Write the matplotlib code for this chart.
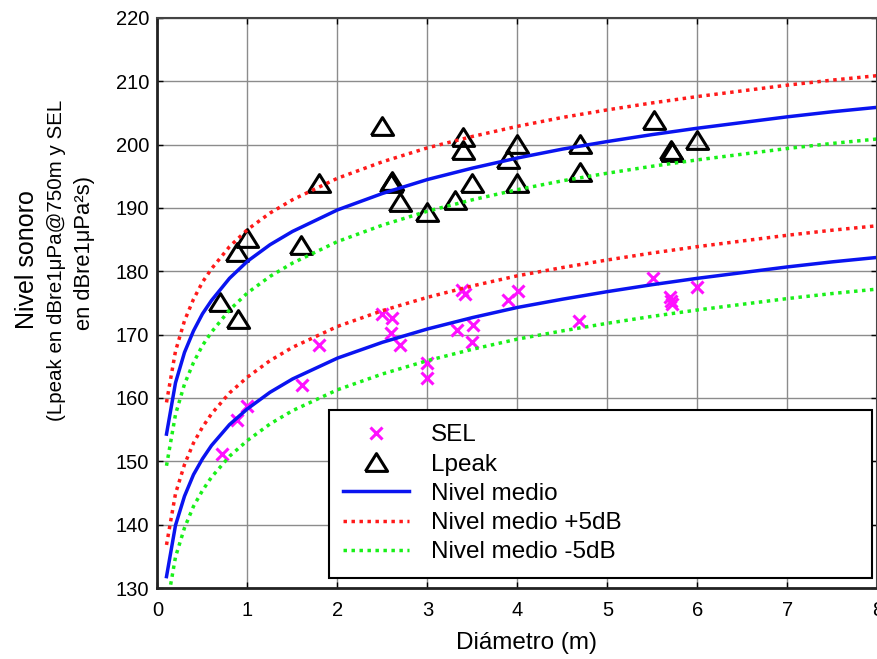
import matplotlib
matplotlib.use("Agg")
import matplotlib.pyplot as plt

plt.rcParams['font.family'] = ['Liberation Sans', 'DejaVu Sans']

# ---- data ----
# Lpeak measurements (diameter m, dB)
lpeak_x = [0.69, 0.89, 0.88, 1.00, 1.59, 1.79, 2.49, 2.60, 2.61, 2.69, 2.99, 3.31,
           3.49, 3.40, 3.40, 3.89, 4.00, 4.00, 4.70, 4.70, 5.52, 5.71, 5.72, 6.00]
lpeak_y = [175.1, 172.4, 183.0, 185.2, 184.1, 193.9, 202.9, 193.9, 194.2, 190.9, 189.4, 191.2,
           193.9, 201.2, 199.1, 197.7, 200.1, 193.9, 200.1, 195.7, 203.9, 199.2, 198.9, 200.7]

# SEL measurements
sel_x = [0.72, 0.88, 1.00, 1.61, 1.79, 2.50, 2.61, 2.60, 2.70, 2.99, 2.99, 3.38, 3.42,
         3.33, 3.51, 3.50, 3.90, 4.01, 4.68, 5.51, 5.70, 5.71, 5.72, 6.00]
sel_y = [151.1, 156.5, 158.7, 162.0, 168.4, 173.2, 172.6, 170.2, 168.3, 165.5, 163.1, 177.0, 176.5,
         170.7, 171.5, 168.8, 175.5, 176.9, 172.1, 178.9, 175.9, 175.3, 174.8, 177.5]

# mean level curves
curve_x = [0.1, 0.2, 0.3, 0.4, 0.5, 0.6, 0.8, 1.0, 1.25, 1.5, 2.0, 2.5, 3.0, 3.5,
           4.0, 4.5, 5.0, 5.5, 6.0, 6.5, 7.0, 7.5, 8.0]
lpeak_mean = [154.3, 162.4, 167.2, 170.6, 173.3, 175.4, 178.9, 181.6, 184.2, 186.3, 189.7, 192.3,
              194.5, 196.3, 197.9, 199.3, 200.5, 201.6, 202.6, 203.5, 204.4, 205.2, 205.9]
sel_mean = [131.8, 139.9, 144.5, 147.9, 150.4, 152.5, 155.8, 158.3, 160.9, 163.0, 166.3, 168.8,
            170.9, 172.7, 174.3, 175.6, 176.8, 177.9, 178.9, 179.8, 180.7, 181.5, 182.2]
offset_db = 5.0

xticks = [0, 1, 2, 3, 4, 5, 6, 7, 8]
yticks = [130, 140, 150, 160, 170, 180, 190, 200, 210, 220]

ylabel_lines = ['Nivel sonoro', '(Lpeak en dBre1\u03bcPa@750m y SEL', 'en dBre1\u03bcPa\u00b2s)']

# ---- figure ----
W, H = 878, 659
fig = plt.figure(figsize=(W / 100, H / 100), dpi=100)
ax = fig.add_axes([157.5 / W, 1 - 588 / H, 720 / W, 570 / H])

tri = [(-1, -0.8), (1, -0.8), (0, 0.8), (-1, -0.8)]

blue = '#0a14f0'
red = '#ff1a1a'
green = '#19f019'
dot = (0, (1, 1.3))

h_sel, = ax.plot(sel_x, sel_y, ls='none', marker='x', ms=9, mew=2.2, color='#ff10ff', label='SEL')
h_lp, = ax.plot(lpeak_x, lpeak_y, ls='none', marker=tri, ms=16, mew=2.2, mfc='none', mec='black',
                label='Lpeak')

lp_plus = [v + offset_db for v in lpeak_mean]
lp_minus = [v - offset_db for v in lpeak_mean]
sel_plus = [v + offset_db for v in sel_mean]
sel_minus = [v - offset_db for v in sel_mean]

h_mean, = ax.plot(curve_x, lpeak_mean, color=blue, lw=2.5, label='Nivel medio')
ax.plot(curve_x, sel_mean, color=blue, lw=2.5)
h_plus, = ax.plot(curve_x, lp_plus, color=red, lw=2.5, ls=dot, label='Nivel medio +5dB')
ax.plot(curve_x, sel_plus, color=red, lw=2.5, ls=dot)
h_minus, = ax.plot(curve_x, lp_minus, color=green, lw=2.5, ls=dot, label='Nivel medio -5dB')
ax.plot(curve_x, sel_minus, color=green, lw=2.5, ls=dot)

ax.set_xlim(0, 8)
ax.set_ylim(130, 220)
ax.set_xticks(xticks)
ax.set_yticks(yticks)
ax.grid(True, color='#8c8c8c', lw=1.0)
ax.set_axisbelow(True)
ax.tick_params(direction='in', top=True, right=True, labelsize=14.5, length=4, width=1)
ax.tick_params(axis='y', pad=6)
ax.tick_params(axis='x', pad=9)
for s in ['left', 'bottom']:
    ax.spines[s].set_linewidth(2.0)
    ax.spines[s].set_color('#222222')
for s in ['top', 'right']:
    ax.spines[s].set_linewidth(1.5)
    ax.spines[s].set_color('#444444')

ax.set_xlabel('Diámetro (m)', fontsize=17.5)
ax.xaxis.set_label_coords(0.512, -0.077)

# y label: three centred lines, as in the reference
line_specs = [(34, 259.5, 18), (62, 260, 14.8), (90, 253, 15.8)]
for txt, (bx, cy, fs) in zip(ylabel_lines, line_specs):
    fig.text(bx / W, 1 - cy / H, txt, rotation=90, rotation_mode='anchor',
             ha='center', va='baseline', fontsize=fs)

leg = ax.legend(handles=[h_sel, h_lp, h_mean, h_plus, h_minus], loc='lower left',
                bbox_to_anchor=(0.238, 0.0175, 0.754, 0.30), mode='expand', borderaxespad=0,
                fontsize=17.5, frameon=True, fancybox=False, framealpha=1, edgecolor='black',
                labelspacing=0.3, handlelength=2.7, handletextpad=0.9, borderpad=0.6)
leg.get_frame().set_linewidth(1.5)

fig.savefig('out.png', dpi=100)
